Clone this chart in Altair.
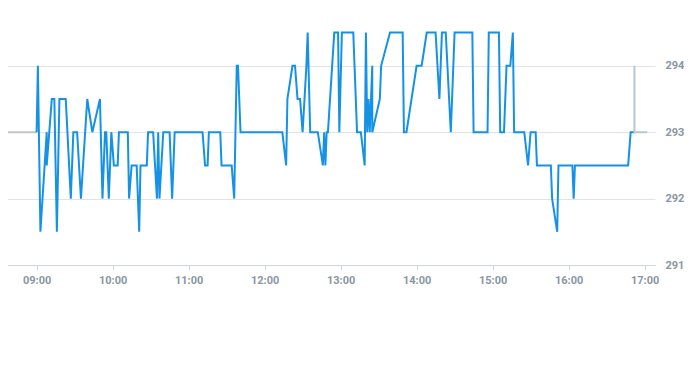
import altair as alt
import pandas as pd

# Main session (blue)
blue_times = [
    "09:00", "09:01", "09:03", "09:08", "09:08", "09:12", "09:14", "09:16", "09:18", "09:23",
    "09:27", "09:29", "09:32", "09:35", "09:40", "09:44", "09:50", "09:52", "09:54", "09:55",
    "09:57", "09:59", "10:01", "10:04", "10:05", "10:12", "10:13", "10:15", "10:19", "10:21",
    "10:22", "10:27", "10:28", "10:32", "10:35", "10:36", "10:37", "10:40", "10:45", "10:47",
    "10:49", "11:11", "11:13", "11:15", "11:16", "11:25", "11:26", "11:34", "11:36", "11:38",
    "11:39", "11:41", "12:14", "12:17", "12:18", "12:22", "12:24", "12:26", "12:28", "12:30",
    "12:33", "12:34", "12:36", "12:42", "12:46", "12:47", "12:48", "12:49", "12:50", "12:55",
    "12:58", "12:59", "13:01", "13:10", "13:13", "13:16", "13:19", "13:20", "13:21", "13:22",
    "13:23", "13:25", "13:25", "13:31", "13:32", "13:39", "13:49", "13:50", "13:52", "14:00",
    "14:04", "14:08", "14:15", "14:18", "14:20", "14:23", "14:27", "14:30", "14:44", "14:45",
    "14:56", "14:57", "15:05", "15:06", "15:09", "15:11", "15:14", "15:16", "15:17", "15:25",
    "15:28", "15:30", "15:34", "15:35", "15:46", "15:47", "15:51", "15:52", "16:03", "16:04",
    "16:05", "16:47", "16:49", "16:52",
]
blue_values = [
    293, 294, 291.5, 293, 292.5, 293.5, 293.5, 291.5, 293.5, 293.5,
    292, 293, 293, 292, 293.5, 293, 293.5, 292, 293, 293,
    292, 293, 292.5, 292.5, 293, 293, 292, 292.5, 292.5, 291.5,
    292.5, 292.5, 293, 293, 292, 293, 292, 293, 293, 292,
    293, 293, 292.5, 292.5, 293, 293, 292.5, 292.5, 292, 294,
    294, 293, 293, 292.5, 293.5, 294, 294, 293.5, 293.5, 293,
    294, 294.5, 293, 293, 292.5, 293, 292.5, 293, 293, 294.5,
    294.5, 293, 294.5, 294.5, 293, 293, 292.5, 294.5, 293, 293.5,
    293, 294, 293, 293.5, 294, 294.5, 294.5, 293, 293, 294,
    294, 294.5, 294.5, 293.5, 294.5, 294.5, 293, 294.5, 294.5, 293,
    293, 294.5, 294.5, 293, 293, 294, 294, 294.5, 293, 293,
    292.5, 293, 293, 292.5, 292.5, 292, 291.5, 292.5, 292.5, 292,
    292.5, 292.5, 293, 293,
]

# Pre-session (grey) and post-session (grey)
pre_times = ["08:30", "09:00"]
pre_values = [293, 293]
post_times = ["16:52", "16:52", "16:52", "17:02"]
post_values = [293, 294, 293, 293]

y_ticks = [291, 292, 293, 294]
hour_ticks = [9, 10, 11, 12, 13, 14, 15, 16, 17]

rows = []
for name, ts, vs in [("pre", pre_times, pre_values),
                     ("main", blue_times, blue_values),
                     ("post", post_times, post_values)]:
    for i, (t, v) in enumerate(zip(ts, vs)):
        rows.append({"series": name, "t": f"2024-01-02T{t}:00", "v": v, "i": i})
df = pd.DataFrame(rows)

def dt(h, m=0, s=0):
    return alt.DateTime(year=2024, month=1, date=2, hours=h, minutes=m, seconds=s)

label_color = "#8a96a3"

chart = alt.Chart(df).mark_line(strokeWidth=2, clip=True).encode(
    x=alt.X(
        "t:T",
        scale=alt.Scale(domain=[dt(8, 31, 6), dt(17, 8, 13)]),
        axis=alt.Axis(
            values=[dt(h) for h in hour_ticks],
            format="%H:%M",
            title=None,
            grid=False,
            domainColor="#cfd6dc",
            tickColor="#cfd6dc",
            tickSize=5,
            labelPadding=4,
            labelColor=label_color,
            labelFont="Roboto",
            labelFontSize=11,
            labelFontWeight="bold",
        ),
    ),
    y=alt.Y(
        "v:Q",
        scale=alt.Scale(domain=[291, 294.87], nice=False, zero=False),
        axis=alt.Axis(
            orient="right",
            values=y_ticks,
            title=None,
            grid=True,
            gridColor="#e3e3e3",
            domain=False,
            ticks=False,
            labelPadding=10,
            labelColor=label_color,
            labelFont="Roboto",
            labelFontSize=11,
            labelFontWeight="bold",
        ),
    ),
    color=alt.Color(
        "series:N",
        scale=alt.Scale(domain=["pre", "main", "post"],
                        range=["#c4c4c4", "#1592e6", "#b9c6cf"]),
        legend=None,
    ),
    order="i:Q",
).properties(
    width=655,
    height=257,
    padding={"left": -8, "top": 0, "right": 0, "bottom": 0},
).configure_view(stroke=None)

chart.save("out.html", embed_options={"renderer": "svg", "actions": False})
